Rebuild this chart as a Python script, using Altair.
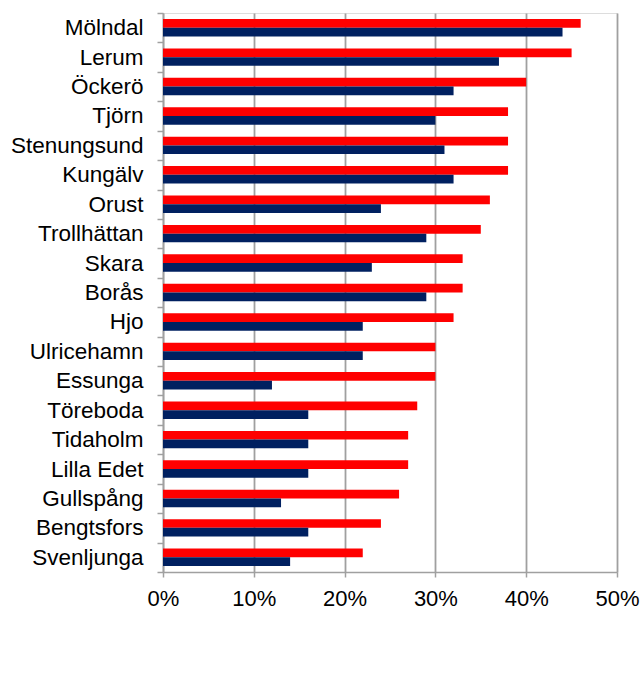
import altair as alt
import pandas as pd

kommuner = ["Mölndal", "Lerum", "Öckerö", "Tjörn", "Stenungsund", "Kungälv", "Orust",
            "Trollhättan", "Skara", "Borås", "Hjo", "Ulricehamn", "Essunga", "Töreboda",
            "Tidaholm", "Lilla Edet", "Gullspång", "Bengtsfors", "Svenljunga"]
serie_rod = [0.46, 0.45, 0.40, 0.38, 0.38, 0.38, 0.36, 0.35, 0.33, 0.33, 0.32, 0.30,
             0.30, 0.28, 0.27, 0.27, 0.26, 0.24, 0.22]
serie_bla = [0.44, 0.37, 0.32, 0.30, 0.31, 0.32, 0.24, 0.29, 0.23, 0.29, 0.22, 0.22,
             0.12, 0.16, 0.16, 0.16, 0.13, 0.16, 0.14]
serier = ["Serie 1", "Serie 2"]
farger = ["#FF0000", "#002060"]
x_ticks = [0, 0.1, 0.2, 0.3, 0.4, 0.5]

rows = []
for k, r, b in zip(kommuner, serie_rod, serie_bla):
    rows.append({"Kommun": k, "Serie": serier[0], "Andel": r})
    rows.append({"Kommun": k, "Serie": serier[1], "Andel": b})
df = pd.DataFrame(rows)

chart = alt.Chart(df).mark_bar().encode(
    y=alt.Y("Kommun:N", sort=kommuner, title=None,
            scale=alt.Scale(paddingInner=0, paddingOuter=0),
            axis=alt.Axis(tickBand="extent", tickSize=6, tickColor="#a0a0a0",
                          domainColor="#a0a0a0", domainWidth=1.5, tickWidth=1.5,
                          labelFontSize=22.5, labelColor="#000000", labelPadding=14,
                          labelFont="Liberation Sans", grid=False)),
    yOffset=alt.YOffset("Serie:N", sort=serier,
                        scale=alt.Scale(paddingInner=0, paddingOuter=0.69)),
    x=alt.X("Andel:Q", title=None,
            scale=alt.Scale(domain=[0, 0.5], nice=False),
            axis=alt.Axis(values=x_ticks, format=".0%", grid=True, gridColor="#a0a0a0",
                          gridWidth=1.8, tickSize=5, tickColor="#a0a0a0", tickWidth=1.5,
                          domainColor="#a0a0a0", domainWidth=1.5, labelFlush=False,
                          labelFontSize=22, labelColor="#000000", labelPadding=11,
                          labelFont="Liberation Sans")),
    color=alt.Color("Serie:N", scale=alt.Scale(domain=serier, range=farger), legend=None),
).properties(
    width=454, height=559,
    autosize=alt.AutoSizeParams(type="none"),
    padding={"left": 163, "top": 13, "right": 25, "bottom": 128},
).configure_view(stroke=None).configure(background="white")

chart.save("out.html", embed_options={"renderer": "svg", "actions": False})
